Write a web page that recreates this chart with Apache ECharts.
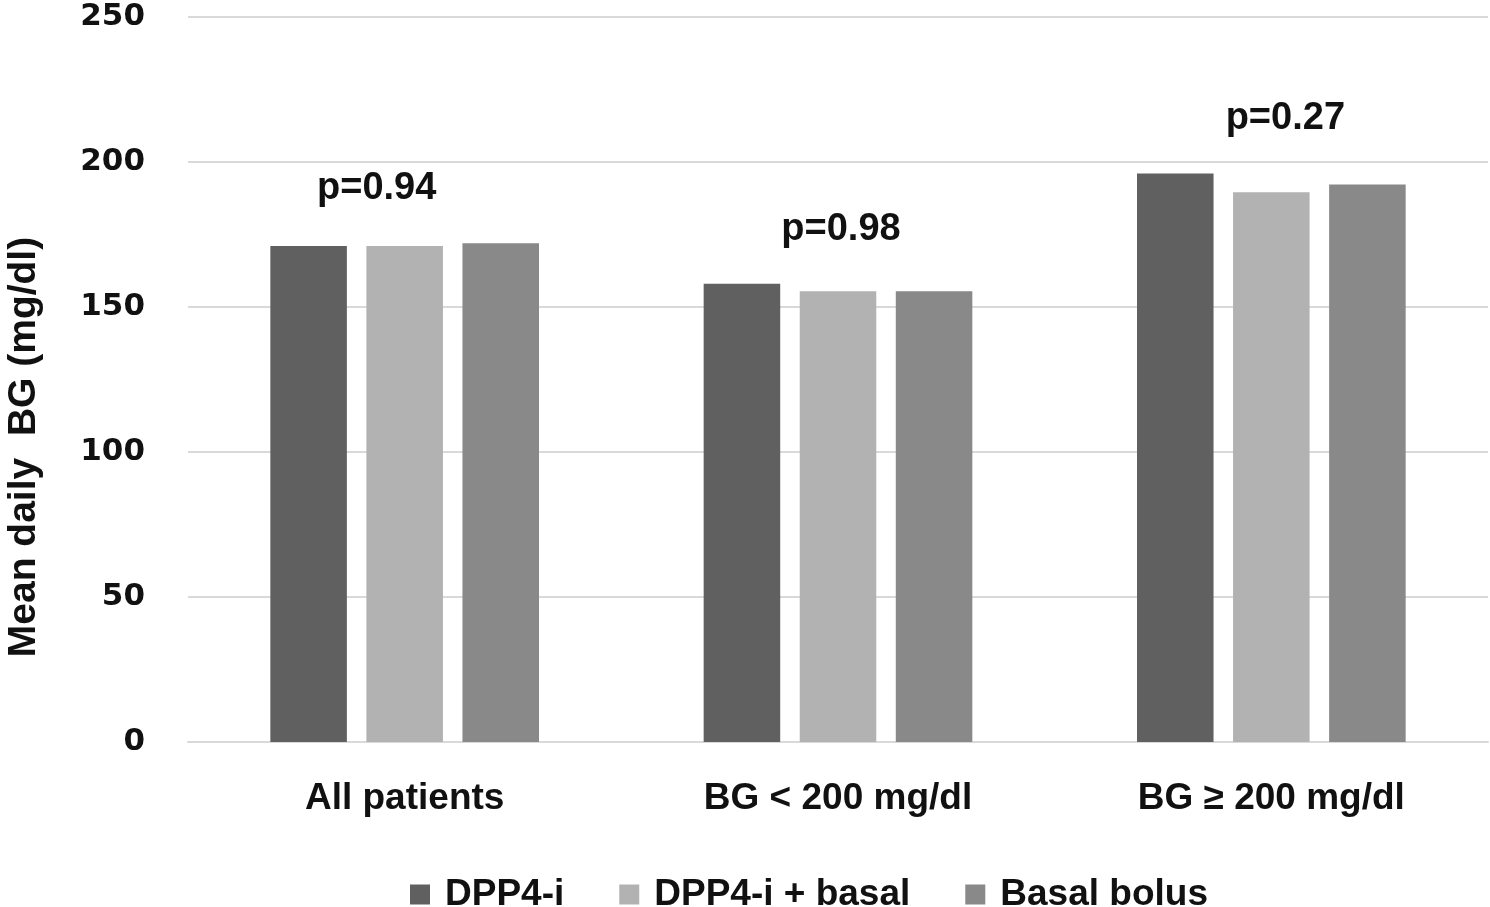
<!DOCTYPE html>
<html>
<head>
<meta charset="utf-8">
<script src="https://cdn.jsdelivr.net/npm/echarts@6/dist/echarts.min.js"></script>
<style>
  html, body { margin: 0; padding: 0; background: #fff; }
  #chart { width: 1490px; height: 907px; }
</style>
</head>
<body>
<div id="chart"></div>
<script>
const categories = ['All patients', 'BG < 200 mg/dl', 'BG \u2265 200 mg/dl']
const seriesNames = ['DPP4-i', 'DPP4-i + basal', 'Basal bolus']
const dpp4 = [171, 158, 196]
const dpp4Basal = [171, 155.4, 189.6]
const basalBolus = [172, 155.4, 192.2]
const pValues = ['p=0.94', 'p=0.98', 'p=0.27']
const yTicks = [0, 50, 100, 150, 200, 250]

// p-value label shift from the middle bar
const pOffsets = [[-28, -34], [3, -38], [14, -50]]
const colors = ['#606060', '#b2b2b2', '#898989']
const font = 'Liberation Sans'

const chart = echarts.init(document.getElementById('chart'))

const bar = (name, data, color) => ({
  name: name,
  type: 'bar',
  data: data,
  barGap: '25.5%',
  barCategoryGap: '38%',
  itemStyle: { color: color },
  emphasis: { disabled: true }
})

const middle = bar(seriesNames[1], dpp4Basal.map((v, i) => ({
  value: v,
  label: {
    show: true,
    position: 'top',
    formatter: pValues[i],
    offset: pOffsets[i],
    color: '#111',
    fontSize: 38,
    fontWeight: 'bold',
    fontFamily: font
  }
})), colors[1])

chart.setOption({
  animation: false,
  grid: { left: 188, right: 2, top: 17, bottom: 165 },
  graphic: [{
    type: 'text',
    x: 24,
    y: 447,
    rotation: Math.PI / 2,
    style: {
      text: 'Mean daily  BG (mg/dl)',
      fontSize: 39,
      fontWeight: 'bold',
      fontFamily: font,
      fill: '#111',
      align: 'center',
      verticalAlign: 'middle'
    }
  }],
  legend: {
    top: 871,
    left: 405,
    itemWidth: 20,
    itemHeight: 20,
    itemGap: 55,
    icon: 'rect',
    data: seriesNames,
    textStyle: { fontSize: 37, fontWeight: 'bold', fontFamily: font, color: '#111', padding: [0, 0, 0, 10] }
  },
  xAxis: {
    type: 'category',
    data: categories,
    axisLine: { lineStyle: { color: '#d9d9d9', width: 2 } },
    axisTick: { show: false },
    axisLabel: { margin: 38, fontSize: 37, fontWeight: 'bold', fontFamily: font, color: '#111' }
  },
  yAxis: {
    type: 'value',
    min: 0,
    max: 250,
    interval: 50,
    axisLabel: {
      margin: 43,
      fontSize: 31,
      fontWeight: 'bold',
      fontFamily: 'DejaVu Sans',
      color: '#111',
      formatter: v => (yTicks.includes(v) ? String(v) : '')
    },
    splitLine: { lineStyle: { color: '#d9d9d9', width: 2 } },
    axisLine: { show: false },
    axisTick: { show: false }
  },
  series: [
    bar(seriesNames[0], dpp4, colors[0]),
    middle,
    bar(seriesNames[2], basalBolus, colors[2])
  ]
})
</script>
</body>
</html>
